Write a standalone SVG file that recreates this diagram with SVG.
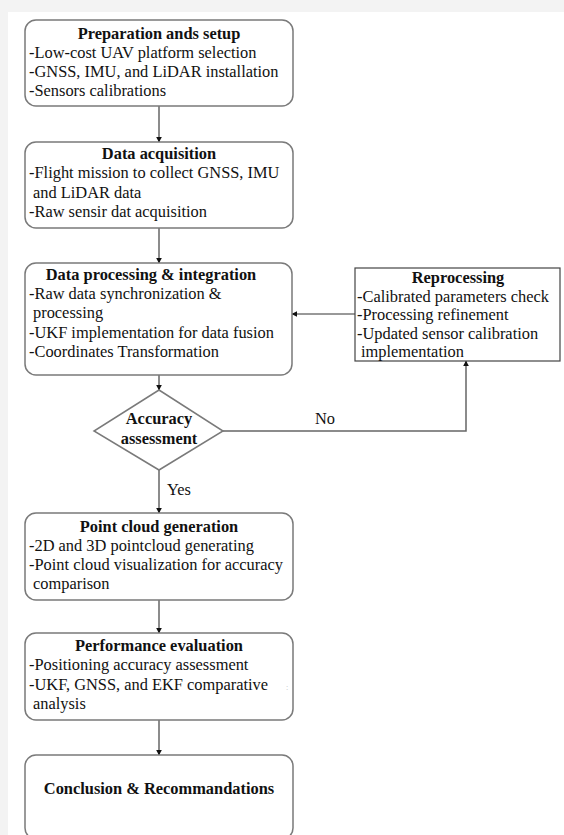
<svg xmlns="http://www.w3.org/2000/svg" width="564" height="835" viewBox="0 0 564 835">
<defs>
<style>
.box{fill:#fff;stroke:#7a7a7a;stroke-width:1.5}
.rbox{fill:#fff;stroke:#444;stroke-width:1.2}
.t{font-family:"Liberation Serif","Times New Roman",serif;font-size:16.4px;fill:#111}
.b{font-weight:bold;text-anchor:middle}
.c{fill:none;stroke:#666;stroke-width:1.5}
.ck{fill:none;stroke:#333;stroke-width:1}
</style>
<marker id="ah" viewBox="0 0 10 10" refX="9" refY="5" markerWidth="6" markerHeight="6" markerUnits="userSpaceOnUse" orient="auto">
<path d="M0,0 L10,5 L0,10 z" fill="#111"/>
</marker>
</defs>
<rect x="0" y="0" width="564" height="835" fill="#f3f3f3"/>
<rect x="8" y="12" width="556" height="823" fill="#fff"/>

<g id="connectors">
<line class="c" x1="159" y1="106" x2="159" y2="142" marker-end="url(#ah)"/>
<line class="c" x1="159" y1="228" x2="159" y2="263" marker-end="url(#ah)"/>
<line class="c" x1="159" y1="375" x2="159" y2="390" marker-end="url(#ah)"/>
<line class="c" x1="159" y1="470" x2="159" y2="513" marker-end="url(#ah)"/>
<line class="c" x1="159" y1="600" x2="159" y2="633" marker-end="url(#ah)"/>
<line class="c" x1="159" y1="720" x2="159" y2="755" marker-end="url(#ah)"/>
<line class="ck" x1="355" y1="314" x2="292" y2="314" marker-end="url(#ah)"/>
<polyline class="c" points="223,431 466,431 466,361" marker-end="url(#ah)"/>
<text class="t" x="325" y="424" text-anchor="middle">No</text>
<text class="t" x="167" y="495">Yes</text>
</g>

<g id="prep">
<rect class="box" x="25" y="20" width="268" height="86" rx="11"/>
<text class="t b" x="159" y="39">Preparation ands setup</text>
<text class="t" x="29" y="58">-Low-cost UAV platform selection</text>
<text class="t" x="29" y="77">-GNSS, IMU, and LiDAR installation</text>
<text class="t" x="29" y="96">-Sensors calibrations</text>
</g>

<g id="acq">
<rect class="box" x="25" y="142" width="268" height="86" rx="11"/>
<text class="t b" x="159" y="159">Data acquisition</text>
<text class="t" x="29" y="178">-Flight mission to collect GNSS, IMU</text>
<text class="t" x="33" y="198">and LiDAR data</text>
<text class="t" x="29" y="217">-Raw sensir dat acquisition</text>
</g>

<g id="proc">
<rect class="box" x="25" y="263" width="267" height="112" rx="11"/>
<text class="t b" x="151" y="280">Data processing &amp; integration</text>
<text class="t" x="29" y="299">-Raw data synchronization &amp;</text>
<text class="t" x="33" y="318">processing</text>
<text class="t" x="29" y="338">-UKF implementation for data fusion</text>
<text class="t" x="29" y="357">-Coordinates Transformation</text>
</g>

<g id="reproc">
<rect class="rbox" x="355" y="268" width="205" height="93"/>
<text class="t b" x="458" y="283">Reprocessing</text>
<text class="t" x="357" y="302">-Calibrated parameters check</text>
<text class="t" x="357" y="320">-Processing refinement</text>
<text class="t" x="357" y="339">-Updated sensor calibration</text>
<text class="t" x="361" y="357">implementation</text>
</g>

<g id="decision">
<polygon class="box" points="159,390 223,431 159,470 94,431"/>
<text class="t b" x="159" y="424">Accuracy</text>
<text class="t b" x="159" y="444">assessment</text>
</g>

<g id="cloud">
<rect class="box" x="25" y="513" width="268" height="87" rx="11"/>
<text class="t b" x="159" y="532">Point cloud generation</text>
<text class="t" x="29" y="551">-2D and 3D pointcloud generating</text>
<text class="t" x="29" y="570">-Point cloud visualization for accuracy</text>
<text class="t" x="33" y="589">comparison</text>
</g>

<g id="perf">
<rect class="box" x="25" y="633" width="268" height="87" rx="11"/>
<text class="t b" x="159" y="651">Performance evaluation</text>
<text class="t" x="29" y="670">-Positioning accuracy assessment</text>
<text class="t" x="29" y="690">-UKF, GNSS, and EKF comparative</text>
<text class="t" x="33" y="709">analysis</text>
<text x="286" y="690" font-family="Liberation Serif, serif" font-size="8" fill="#bbb">:</text>
</g>

<g id="concl">
<rect class="box" x="25" y="755" width="268" height="84" rx="11"/>
<text class="t b" x="159" y="794">Conclusion &amp; Recommandations</text>
</g>
</svg>
